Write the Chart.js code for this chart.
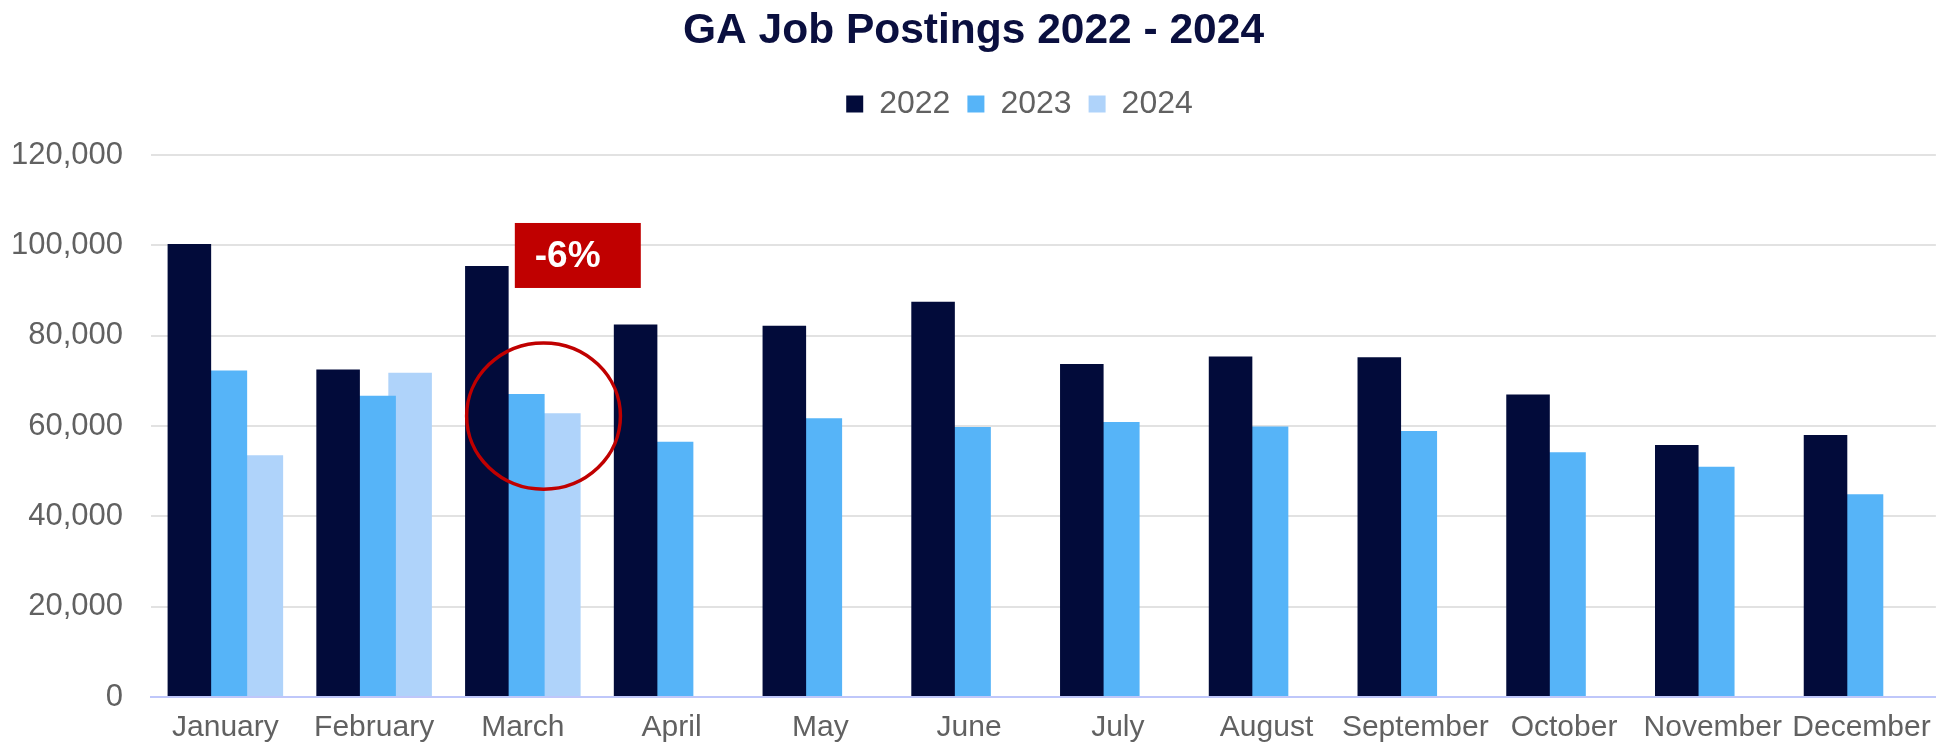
<!DOCTYPE html>
<html>
<head>
<meta charset="utf-8">
<script src="https://cdn.jsdelivr.net/npm/chart.js@4/dist/chart.umd.min.js"></script>
<style>
  html, body { margin: 0; padding: 0; background: #fff; }
  #wrap { width: 1944px; height: 746px; }
</style>
</head>
<body>
<div id="wrap"><canvas id="grafico" width="1944" height="746"></canvas></div>
<script>
const meses = ['January', 'February', 'March', 'April', 'May', 'June',
  'July', 'August', 'September', 'October', 'November', 'December'];
const anos = ['2022', '2023', '2024'];
const vagas2022 = [100300, 72500, 95400, 82500, 82200, 87500, 73700, 75400, 75200, 67000, 55800, 58000];
const vagas2023 = [72300, 66700, 67100, 56500, 61700, 59800, 60900, 59900, 58900, 54200, 51000, 44900];
const vagas2024 = [53500, 71800, 62800, null, null, null, null, null, null, null, null, null];
const eixoY = [0, 20000, 40000, 60000, 80000, 100000, 120000];

// destaque de marco: caixa com texto e circulo (em unidades dos eixos)
const nota = { de: 1.946, ate: 2.793, topo: 104950, base: 90560, texto: '-6%', textoX: 2.08, textoY: 97400 };
const anel = { centro: 2.139, valor: 62200, raioX: 0.517, raioY: 16200 };

const fonte = '"Liberation Sans", Arial, sans-serif';
const cinza = '#616161';

const destaque = {
  id: 'destaque',
  afterInit(chart) {
    // espaco extra entre a legenda e a area do grafico
    const legenda = chart.legend;
    const fitOriginal = legenda.fit;
    legenda.fit = function () {
      fitOriginal.call(this);
      this.height += 25;
    };
  },
  afterLayout(chart) {
    // legenda levemente deslocada para a direita como no original
    chart.legend.left += 46;
    chart.legend.right += 46;
  },
  afterDatasetsDraw(chart) {
    const x = chart.scales.x, y = chart.scales.y;
    const passo = x.getPixelForValue(1) - x.getPixelForValue(0);
    const px = v => x.getPixelForValue(Math.floor(v)) + (v - Math.floor(v)) * passo;
    const ctx = chart.ctx;
    ctx.save();
    // caixa vermelha
    ctx.fillStyle = '#C00000';
    const x0 = px(nota.de), x1 = px(nota.ate);
    const y0 = y.getPixelForValue(nota.topo), y1 = y.getPixelForValue(nota.base);
    ctx.fillRect(x0, y0, x1 - x0, y1 - y0);
    ctx.fillStyle = '#fff';
    ctx.font = 'bold 37px ' + fonte;
    ctx.textAlign = 'left';
    ctx.textBaseline = 'middle';
    ctx.fillText(nota.texto, px(nota.textoX), y.getPixelForValue(nota.textoY));
    // circulo
    const cx = px(anel.centro), cy = y.getPixelForValue(anel.valor);
    const rx = anel.raioX * passo;
    const ry = y.getPixelForValue(anel.valor - anel.raioY) - cy;
    ctx.beginPath();
    ctx.ellipse(cx, cy, rx, ry, 0, 0, Math.PI * 2);
    ctx.strokeStyle = '#C00000';
    ctx.lineWidth = 3.5;
    ctx.stroke();
    ctx.restore();
  }
};

const ctx = document.getElementById('grafico').getContext('2d');
new Chart(ctx, {
  type: 'bar',
  data: {
    labels: meses,
    datasets: [
      { label: anos[0], data: vagas2022, backgroundColor: '#020B3A' },
      { label: anos[1], data: vagas2023, backgroundColor: '#56B4F8' },
      { label: anos[2], data: vagas2024, backgroundColor: '#AFD3FA' }
    ]
  },
  options: {
    responsive: false,
    animation: false,
    devicePixelRatio: 1,
    categoryPercentage: 0.726,
    barPercentage: 1.21,
    layout: { padding: { left: 10, right: 7, top: 0, bottom: 0 } },
    plugins: {
      title: {
        display: true,
        text: 'GA Job Postings 2022 - 2024',
        color: '#0A0F3F',
        font: { family: fonte, size: 42.5, weight: 'bold' },
        padding: { top: 6, bottom: 14 }
      },
      legend: {
        position: 'top',
        labels: {
          color: cinza,
          font: { family: fonte, size: 32 },
          boxWidth: 17,
          boxHeight: 17,
          padding: 17
        }
      },
      tooltip: { enabled: false }
    },
    scales: {
      x: {
        grid: { display: false, drawTicks: false },
        border: { display: true, color: '#BFC7FA', width: 2 },
        ticks: { color: cinza, font: { family: fonte, size: 30 }, padding: 13, maxRotation: 0, autoSkip: false },
        afterFit: axis => { axis.height = 49; }
      },
      y: {
        min: eixoY[0],
        max: eixoY[eixoY.length - 1],
        afterBuildTicks: axis => { axis.ticks = eixoY.map(v => ({ value: v })); },
        afterFit: axis => { axis.width = 141; },
        grid: { color: '#E2E2E2', lineWidth: 2, drawTicks: false },
        border: { display: false },
        ticks: {
          color: cinza,
          font: { family: fonte, size: 31 },
          padding: 28,
          callback: v => v.toLocaleString('en-US')
        }
      }
    }
  },
  plugins: [destaque]
});
</script>
</body>
</html>
